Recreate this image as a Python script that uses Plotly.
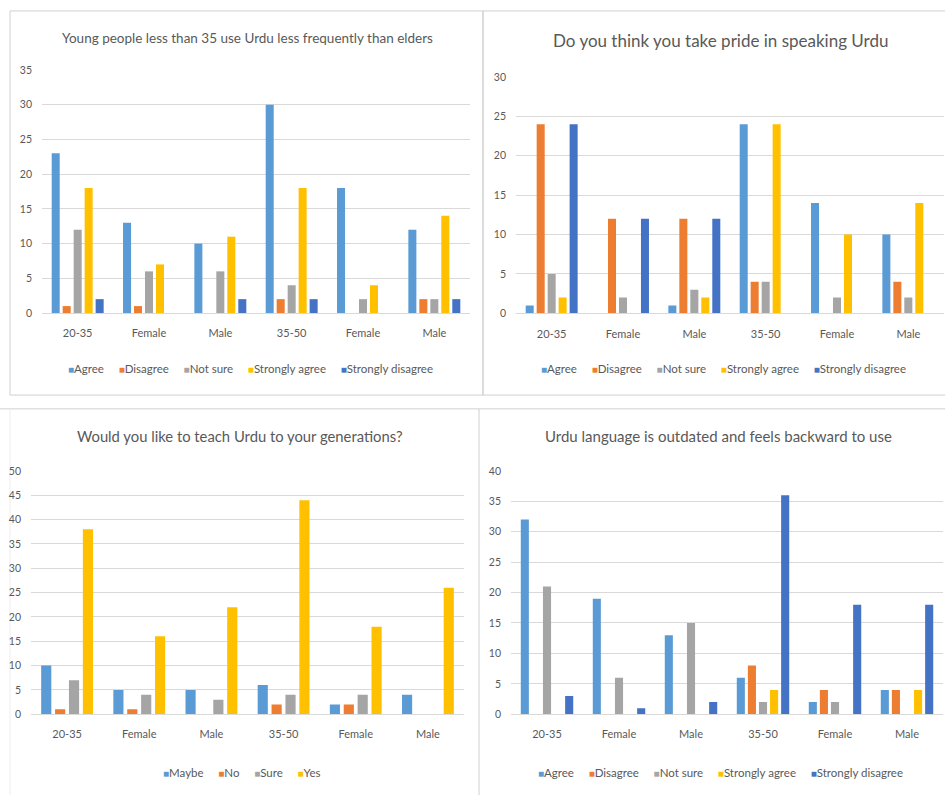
import plotly.graph_objects as go

# ---------------- data ----------------
categories = ["20-35", "Female", "Male", "35-50", "Female", "Male"]

likert_series = ["Agree", "Disagree", "Not sure", "Strongly agree", "Strongly disagree"]
teach_series = ["Maybe", "No", "Sure", "Yes"]

# Chart 1: Young people less than 35 use Urdu less frequently than elders
young_agree = [23, 13, 10, 30, 18, 12]
young_disagree = [1, 1, 0, 2, 0, 2]
young_not_sure = [12, 6, 6, 4, 2, 2]
young_strongly_agree = [18, 7, 11, 18, 4, 14]
young_strongly_disagree = [2, 0, 2, 2, 0, 2]

# Chart 2: Do you think you take pride in speaking Urdu
pride_agree = [1, 0, 1, 24, 14, 10]
pride_disagree = [24, 12, 12, 4, 0, 4]
pride_not_sure = [5, 2, 3, 4, 2, 2]
pride_strongly_agree = [2, 0, 2, 24, 10, 14]
pride_strongly_disagree = [24, 12, 12, 0, 0, 0]

# Chart 3: Would you like to teach Urdu to your generations?
teach_maybe = [10, 5, 5, 6, 2, 4]
teach_no = [1, 1, 0, 2, 2, 0]
teach_sure = [7, 4, 3, 4, 4, 0]
teach_yes = [38, 16, 22, 44, 18, 26]

# Chart 4: Urdu language is outdated and feels backward to use
outdated_agree = [32, 19, 13, 6, 2, 4]
outdated_disagree = [0, 0, 0, 8, 4, 4]
outdated_not_sure = [21, 6, 15, 2, 2, 0]
outdated_strongly_agree = [0, 0, 0, 4, 0, 4]
outdated_strongly_disagree = [3, 1, 2, 36, 18, 18]

titles = [
    "Young people less than 35 use Urdu less frequently than elders",
    "Do you think you take pride in speaking Urdu",
    "Would you like to teach Urdu to your generations?",
    "Urdu language is outdated and feels backward to use",
]

y_ranges = [35, 30, 50, 40]

likert_colors = ["#5B9BD5", "#ED7D31", "#A5A5A5", "#FFC000", "#4472C4"]
teach_colors = ["#5B9BD5", "#ED7D31", "#A5A5A5", "#FFC000"]

panels = [
    (likert_series, [young_agree, young_disagree, young_not_sure,
                     young_strongly_agree, young_strongly_disagree], likert_colors),
    (likert_series, [pride_agree, pride_disagree, pride_not_sure,
                     pride_strongly_agree, pride_strongly_disagree], likert_colors),
    (teach_series, [teach_maybe, teach_no, teach_sure, teach_yes], teach_colors),
    (likert_series, [outdated_agree, outdated_disagree, outdated_not_sure,
                     outdated_strongly_agree, outdated_strongly_disagree], likert_colors),
]

# ---------------- layout geometry (pixels) ----------------
W, H = 945, 801
FONT = "Lato"
TXT = "#595959"
GRID = "#D9D9D9"


def px(x):
    return x / W


def py(y):
    return 1 - y / H


# plot areas: (left, right, top, bottom) in pixels
areas = [
    (42, 470, 65, 311.7),
    (516, 944, 72, 312),
    (31, 464, 472, 719),
    (511, 943, 472, 719),
]
title_pos = [(248, 32, 13.5), (720, 35, 17), (239.5, 437, 14.8), (718.5, 437, 15)]
legend_pos = [(250, 368), (723, 368), (242, 778), (720, 778)]

fig = go.Figure()
xpos = list(range(len(categories)))

annotations = []
for i, (names, series, colors) in enumerate(panels):
    axn = "" if i == 0 else str(i + 1)
    for name, vals, col in zip(names, series, colors):
        fig.add_trace(go.Bar(
            x=xpos, y=vals, name=name, marker_color=col,
            marker_line_width=0, showlegend=False,
            xaxis="x" + axn, yaxis="y" + axn,
        ))
    l, r, t, b = areas[i]
    fig.update_layout(**{
        "xaxis" + axn: dict(
            domain=[px(l), px(r)], anchor="y" + axn,
            range=[-0.5, len(categories) - 0.5],
            tickvals=xpos, ticktext=categories,
            showgrid=False, zeroline=False,
            showline=True, linecolor=GRID, linewidth=1,
            ticks="", ticklabelstandoff=10,
            tickfont=dict(family=FONT, size=11, color=TXT),
            fixedrange=True,
        ),
        "yaxis" + axn: dict(
            domain=[py(b), py(t)], anchor="x" + axn,
            range=[0, y_ranges[i]], dtick=5,
            showgrid=True, gridcolor=GRID, gridwidth=1,
            zeroline=False, showline=False, ticks="",
            ticklabelstandoff=9,
            tickfont=dict(family=FONT, size=10.5, color=TXT),
            fixedrange=True,
        ),
    })
    tx, ty, ts = title_pos[i]
    annotations.append(dict(
        text=titles[i], x=px(tx), y=py(ty), xref="paper", yref="paper",
        xanchor="center", yanchor="middle", showarrow=False,
        font=dict(family=FONT, size=ts, color=TXT),
    ))
    parts = []
    for name, col in zip(names, colors):
        parts.append(
            "<span style='color:%s;font-size:10px'>\u25A0</span>%s" % (col, name)
        )
    lx, ly = legend_pos[i]
    annotations.append(dict(
        text="&nbsp;&nbsp;&nbsp;&nbsp;&nbsp;".join(parts),
        x=px(lx), y=py(ly), xref="paper", yref="paper",
        xanchor="center", yanchor="middle", showarrow=False,
        font=dict(family=FONT, size=11.5, color=TXT),
    ))

BORDER = "#D0D0D0"
shapes = [
    # top-left box
    dict(type="rect", x0=px(10), x1=px(483), y0=py(395), y1=py(5)),
    # top-right box
    dict(type="rect", x0=px(483), x1=px(960), y0=py(395), y1=py(5)),
    # bottom separator
    dict(type="line", x0=px(0), x1=px(945), y0=py(409), y1=py(409)),
    dict(type="line", x0=px(479), x1=px(479), y0=py(409), y1=py(801)),
    dict(type="line", x0=px(10), x1=px(10), y0=py(409), y1=py(801),
         line=dict(color="#EEEEEE", width=1)),
]
for s in shapes:
    s.setdefault("line", dict(color=BORDER, width=1))
    s["xref"] = "paper"
    s["yref"] = "paper"
    s["layer"] = "below"

fig.update_layout(
    width=W, height=H,
    margin=dict(l=0, r=0, t=0, b=0),
    paper_bgcolor="white", plot_bgcolor="white",
    barmode="group", bargap=0.23, bargroupgap=0.27,
    annotations=annotations, shapes=shapes,
    showlegend=False,
    font=dict(family=FONT, color=TXT),
)

fig.write_html("out.html")
